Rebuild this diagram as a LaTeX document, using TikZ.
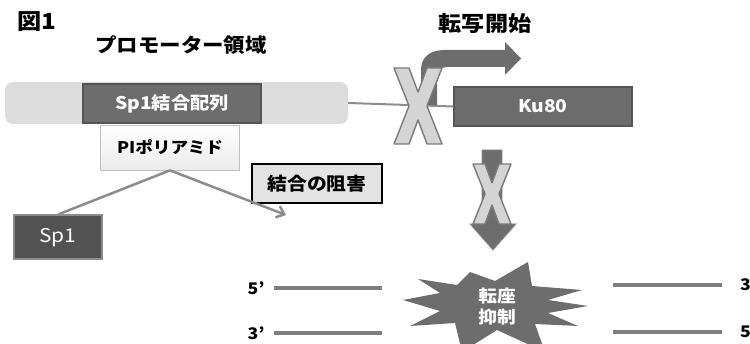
\documentclass[tikz,border=0pt]{standalone}
\usepackage{fontspec}
\setmainfont[FakeStretch=1.1]{Noto Sans CJK JP}
\usetikzlibrary{arrows.meta}
\definecolor{dkbox}{HTML}{6D6D6D}
\definecolor{dkedge}{HTML}{555555}
\definecolor{barfill}{HTML}{DCDCDC}
\definecolor{linegray}{HTML}{8C8C8C}
\definecolor{xfill}{HTML}{D4D4D4}
\definecolor{xedge}{HTML}{7A7A7A}
\begin{document}
\begin{tikzpicture}[x=1pt,y=-1pt,
  title/.style={font=\fontsize{#1}{#1}\selectfont\bfseries, inner sep=0pt},
  darkbox/.style={draw=dkedge, line width=1.2pt, fill=dkbox, text=white, inner sep=0pt,
     font=\fontsize{17.5}{17.5}\selectfont\bfseries},
  conn/.style={draw=linegray, line width=2.5pt},
  dna/.style={draw=linegray!90!black, line width=4pt},
  xshape/.style={fill=xfill, draw=xedge, line width=1.4pt, line join=round},
  lbl/.style={font=\fontsize{16}{16}\selectfont\bfseries, inner sep=0pt}
]
\useasboundingbox (0,0) rectangle (750,344);
\clip (0,0) rectangle (750,344);

% titles
\node[title=22] (fig) at (37,22) {図1};
\node[title=19.5] (prom) at (181,45) {プロモーター領域};
\node[title=21] (trans) at (485,24) {転写開始};

% promoter bar and line to Ku80
\node[fill=barfill, rounded corners=8pt, minimum width=343pt, minimum height=42pt, inner sep=0pt] (bar) at (176.5,103) {};
\node[darkbox, minimum width=178pt, minimum height=39pt] (ku) at (543,106.5) {Ku80};
\draw[conn, line width=2pt] (bar.east) -- (ku.west);
\node[darkbox, minimum width=178pt, minimum height=39pt] (site) at (172,103.5) {Sp1結合配列};

% bent arrow (transcription start)
\fill[dkbox] (421,105) -- (421,70) .. controls (421,57) and (430,50) .. (445,50)
  -- (505,50) -- (505,42) -- (521,58.5) -- (505,75) -- (505,67) -- (447,67)
  .. controls (441,67) and (437,71) .. (437,77) -- (437,105) -- cycle;

% X over the line
\begin{scope}[shift={(418,106)}]
\draw[xshape] (-24,-38) -- (-9,-38) -- (0,-14) -- (9,-38) -- (24,-38) -- (9,0)
  -- (24,38) -- (9,38) -- (0,14) -- (-9,38) -- (-24,38) -- (-9,0) -- cycle;
\end{scope}

% PI polyamide
\node[draw=black!25, line width=0.8pt, top color=white, bottom color=black!8,
  minimum width=139pt, minimum height=45pt, inner sep=0pt,
  font=\fontsize{16}{16}\selectfont\bfseries] (pi) at (170,147.5) {PIポリアミド};
\node[draw=black, line width=2pt, fill=black!11, text=black,
  minimum width=130pt, minimum height=39pt, inner sep=0pt,
  font=\fontsize{18}{18}\selectfont\bfseries] (block) at (317,183.5) {結合の阻害};
\node[draw=black!45, line width=2pt, fill=black!68, text=white,
  minimum width=88pt, minimum height=44pt, inner sep=0pt,
  font=\fontsize{19}{19}\selectfont] (sp1) at (58,237.5) {Sp1};
\coordinate (hit) at (286,215);
\draw[conn] (pi.south) -- (sp1.north);
\draw[conn, -{Straight Barb[length=7pt,width=12pt,line width=2.5pt]}] (pi.south) -- (hit);

% down arrow with X
\fill[dkbox, draw=black!45, line width=0.8pt] (482,150) -- (502,150) -- (502,224) -- (516,224)
  -- (493,250) -- (470,224) -- (482,224) -- cycle;
\begin{scope}[shift={(492,194)}]
\draw[xshape] (-19,-30) -- (-7,-30) -- (0,-11) -- (7,-30) -- (19,-30) -- (7,0)
  -- (19,30) -- (7,30) -- (0,11) -- (-7,30) -- (-19,30) -- (-7,0) -- cycle;
\end{scope}

% starburst
\fill[dkbox] (403,300) -- (440,293) -- (418,279) -- (457,285) -- (470,272)
  -- (495,281) -- (528,262) -- (532,286) -- (582,290) -- (548,300) -- (588,306)
  -- (548,313) -- (578,326) -- (535,324) -- (545,352) -- (497,330) -- (462,352)
  -- (455,323) -- (410,326) -- (440,311) -- cycle;
\node[text=white, align=center, inner sep=0pt, font=\fontsize{17}{21}\selectfont\bfseries] (burst) at (497,307) {転座\\抑制};

% DNA strands
\node[lbl] (l5) at (256,288) {5’};
\node[lbl] (l3) at (256,333) {3’};
\coordinate (la1) at (274,288); \coordinate (lb1) at (382,288);
\coordinate (la2) at (274,333); \coordinate (lb2) at (382,333);
\draw[dna] (la1) -- (lb1);
\draw[dna] (la2) -- (lb2);
\node[lbl, anchor=west] (r3) at (740,285) {3};
\node[lbl, anchor=west] (r5) at (740,332) {5};
\coordinate (ra1) at (613,285); \coordinate (rb1) at (722,285);
\coordinate (ra2) at (613,332); \coordinate (rb2) at (722,332);
\draw[dna] (ra1) -- (rb1);
\draw[dna] (ra2) -- (rb2);
\end{tikzpicture}
\end{document}
